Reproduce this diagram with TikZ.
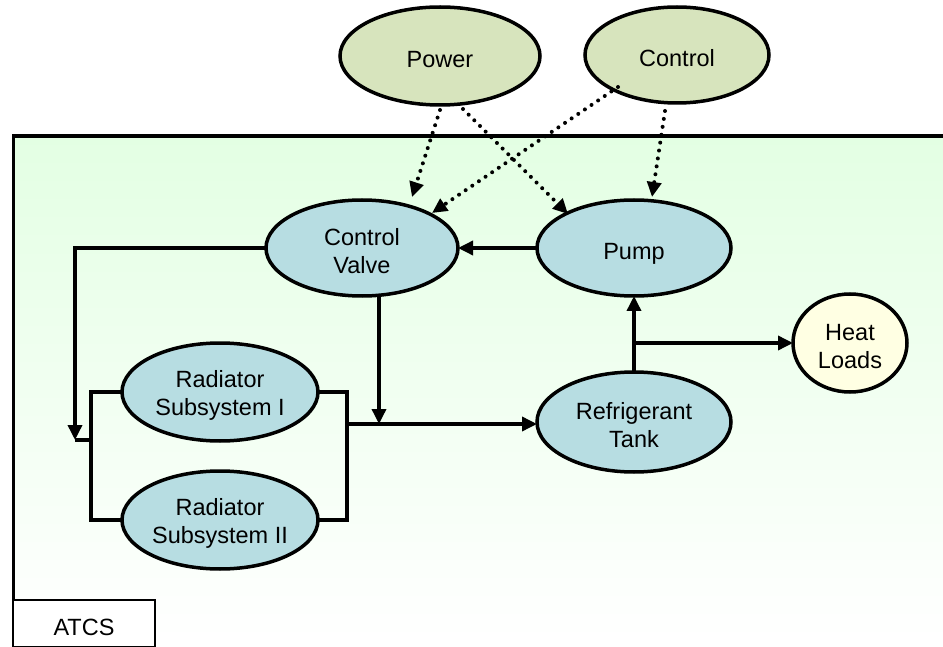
\documentclass[tikz,border=0pt]{standalone}
\usepackage{fontspec}
\setmainfont{Liberation Sans}
\usetikzlibrary{shapes.geometric,arrows.meta,calc}
\definecolor{olivefill}{HTML}{D7E4BD}
\definecolor{bluefill}{HTML}{B7DDE2}
\definecolor{heatfill}{HTML}{FFFFE3}
\definecolor{bggreen}{HTML}{E3FFE3}
\pgfdeclarelayer{bg}
\pgfdeclarelayer{edges}
\pgfsetlayers{bg,edges,main}
\newcommand{\tstrut}{\rule{0pt}{23pt}}
\newcommand{\pstrut}{\rule{0pt}{27pt}}
\tikzset{
  elli/.style={ellipse, draw=black, line width=3.5pt, inner sep=0pt, outer sep=0pt,
    align=center, font=\fontsize{23.5}{28}\selectfont},
  ext/.style={elli, fill=olivefill},
  comp/.style={elli, fill=bluefill},
  load/.style={elli, fill=heatfill},
  flow/.style={line width=3.5pt},
  flowarrow/.style={flow, -{Triangle[length=15pt,width=14pt]}},
  sigarrow/.style={line width=4pt, line cap=round, dash pattern=on 0pt off 8pt,
    -{Triangle[length=15pt,width=14pt]}},
}
\begin{document}
\begin{tikzpicture}[x=1pt,y=-1pt]
\useasboundingbox (0,0) rectangle (943,647);
\clip (0,0) rectangle (943,647);

% background frame
\begin{pgfonlayer}{bg}
  \shade[top color=bggreen, bottom color=white] (13,136) rectangle (960,640);
  \fill[white] (13,640) rectangle (960,700);
  \draw[line width=3.2pt] (13.5,700) -- (13.5,136) -- (960,136);
\end{pgfonlayer}

% nodes
\node[ext, minimum width=200pt, minimum height=98pt] (power) at (440,56) {\tstrut Power};
\node[ext, minimum width=184pt, minimum height=96pt] (control) at (677,55) {\tstrut Control};
\node[comp, minimum width=192pt, minimum height=96pt] (cv) at (362,248) {\tstrut Control\\Valve};
\node[comp, minimum width=194pt, minimum height=96pt] (pump) at (634,248) {\pstrut Pump};
\node[load, minimum width=114pt, minimum height=98pt] (heat) at (850,343) {\tstrut Heat\\Loads};
\node[comp, minimum width=194pt, minimum height=100pt] (tank) at (634,422) {\tstrut Refrigerant\\Tank};
\node[comp, minimum width=196pt, minimum height=98pt] (rs1) at (220,392) {\tstrut Radiator\\Subsystem I};
\node[comp, minimum width=196pt, minimum height=98pt] (rs2) at (220,520) {\tstrut Radiator\\Subsystem II};

% ATCS label box
\draw[line width=1.4pt, fill=white] (13.5,600) rectangle (155,646.5);
\node[font=\fontsize{23.5}{28}\selectfont, inner sep=0pt] (atcs) at (84,627) {ATCS};

% junction coordinates
\coordinate (jn) at (75,440);
\coordinate (jL) at (91,440);
\coordinate (jR) at (347,424);
\coordinate (cvd) at (379,424);
\coordinate (br) at (634,343);

\begin{pgfonlayer}{edges}
  \draw[flowarrow] (cv.west) -| (jn);
  \draw[flow] (jn) -- (jL);
  \draw[flow] (rs1.west) -| (jL);
  \draw[flow] (rs2.west) -| (jL);
  \draw[flow] (rs1.east) -| (jR);
  \draw[flow] (rs2.east) -| (jR);
  \draw[flowarrow] (jR) -- (jR -| tank.west);
  \draw[flowarrow] (cv.south -| cvd) -- (cvd);
  \draw[flowarrow] (pump.west) -- (cv.east);
  \draw[flowarrow] (tank.north) -- (pump.south);
  \draw[flowarrow] (br) -- (br -| heat.west);
\end{pgfonlayer}

% signal (dotted) connectors
\draw[sigarrow] ($(power.center)+(0,54)$) -- ($(cv.center)+(50,-51)$);
\draw[sigarrow] ($(power.center)+(23,53)$) -- ($(pump.center)+(-66,-34)$);
\draw[sigarrow] ($(control.center)+(-59,32)$) -- ($(cv.center)+(70,-35)$);
\draw[sigarrow] ($(control.center)+(-12,56)$) -- ($(pump.center)+(18,-51)$);
\end{tikzpicture}
\end{document}
